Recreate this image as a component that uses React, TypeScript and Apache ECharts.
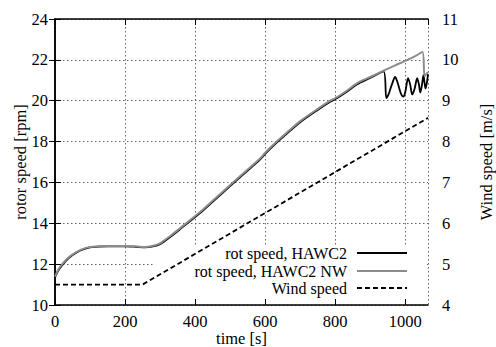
import React, { useEffect, useRef } from "react";
import * as echarts from "echarts";

const timeRot = [0, 10, 23, 40, 62, 80, 100, 150, 200, 230, 257, 280, 300, 329, 360, 414, 450, 500, 550, 586, 600, 633, 666, 700, 750, 786, 800, 830, 862, 900, 938];
const rotGrayHead = [11.39, 11.75, 12.05, 12.35, 12.6, 12.75, 12.84, 12.89, 12.89, 12.87, 12.84, 12.9, 13.02, 13.38, 13.8, 14.55, 15.1, 15.87, 16.63, 17.18, 17.45, 18.0, 18.5, 19.0, 19.6, 20.0, 20.12, 20.45, 20.85, 21.16, 21.47];
const rotBlackHead = [11.36, 11.7, 12.0, 12.31, 12.57, 12.72, 12.82, 12.87, 12.87, 12.85, 12.82, 12.87, 12.98, 13.33, 13.75, 14.5, 15.05, 15.82, 16.58, 17.13, 17.4, 17.95, 18.45, 18.95, 19.55, 19.95, 20.07, 20.4, 20.8, 21.12, 21.44];

const timeGrayTail = [970, 1000, 1030, 1049, 1055, 1060, 1065];
const rotGrayTail = [21.72, 21.95, 22.2, 22.38, 21.2, 21.3, 21.4];

const timeBlackTail = [946, 952, 958, 965, 971, 977, 983, 989, 995, 1001, 1008, 1014, 1020, 1027, 1034, 1039, 1043, 1048, 1052, 1055, 1058, 1062, 1065];
const rotBlackTail = [20.13, 20.3, 20.6, 20.95, 21.16, 20.95, 20.6, 20.3, 20.2, 20.5, 21.1, 20.8, 20.3, 20.6, 21.1, 20.8, 20.4, 20.8, 21.25, 20.9, 20.6, 20.9, 21.3];

const timeWind = [0, 250, 1065];
const windSpeed = [4.5, 4.5, 8.58];

const seriesNames = ["rot speed, HAWC2", "rot speed, HAWC2 NW", "Wind speed"];

const FONT = "'Liberation Serif', 'Times New Roman', serif";
const FS = 16.5;

function pairs(t: number[], v: number[]) {
  return t.map((x, i) => [x, v[i]]);
}

export default function App() {
  const ref = useRef<HTMLDivElement>(null);
  useEffect(() => {
    if (!ref.current) return;
    const chart = echarts.init(ref.current, undefined, { renderer: "svg", width: 496, height: 347 });
    const gridLine = { show: true, lineStyle: { color: "#666", type: [1.5, 2.5] as any, width: 1 } };
    const axisLineStyle = { color: "#000", width: 1.5 };
    const labelStyle = { color: "#000", fontFamily: FONT, fontSize: FS };
    const legendCommon = {
      orient: "horizontal",
      align: "right",
      right: 88,
      itemWidth: 50,
      itemHeight: 14,
      padding: 0,
      itemStyle: { opacity: 0 },
      textStyle: { color: "#000", fontFamily: FONT, fontSize: 16, lineHeight: 16, padding: [0, 5, 0, 0] },
    };
    const grayData = pairs(timeRot, rotGrayHead).concat(pairs(timeGrayTail, rotGrayTail));
    const blackData = pairs(timeRot, rotBlackHead).concat(pairs(timeBlackTail, rotBlackTail));
    chart.setOption({
      animation: false,
      backgroundColor: "#fff",
      textStyle: { fontFamily: FONT },
      grid: { left: 55, right: 68, top: 19, bottom: 42, outerBoundsMode: "none", containLabel: false },
      graphic: [
        { type: "rect", z: 1, shape: { x: 153, y: 245, width: 274, height: 53 }, style: { fill: "#fff" } },
      ],
      legend: [
        { ...legendCommon, top: 245, data: [seriesNames[0]] },
        { ...legendCommon, top: 263, data: [seriesNames[1]] },
        { ...legendCommon, top: 280, data: [seriesNames[2]] },
      ],
      xAxis: [
        {
          type: "value",
          position: "bottom",
          min: 0,
          max: 1065,
          interval: 200,
          name: "time [s]",
          nameLocation: "middle",
          nameGap: 25,
          nameMoveOverlap: false,
          nameTextStyle: labelStyle,
          axisLine: { show: true, lineStyle: axisLineStyle },
          axisTick: { show: true, inside: true, length: 6, lineStyle: { color: "#000", width: 1 } },
          axisLabel: { ...labelStyle, margin: 8, showMaxLabel: false, formatter: (v: number) => String(v) },
          splitLine: gridLine,
        },
        {
          type: "value",
          position: "top",
          min: 0,
          max: 1065,
          interval: 200,
          axisLine: { show: true, lineStyle: axisLineStyle },
          axisTick: { show: true, inside: true, length: 6, lineStyle: { color: "#000", width: 1 } },
          axisLabel: { show: false },
          splitLine: { show: false },
        },
      ],
      yAxis: [
        {
          type: "value",
          position: "left",
          min: 10,
          max: 24,
          interval: 2,
          name: "rotor speed [rpm]",
          nameLocation: "middle",
          nameRotate: 90,
          nameGap: 26,
          nameMoveOverlap: false,
          nameTextStyle: labelStyle,
          axisLine: { show: true, lineStyle: axisLineStyle },
          axisTick: { show: true, inside: true, length: 6, lineStyle: { color: "#000", width: 1 } },
          axisLabel: { ...labelStyle, margin: 7 },
          splitLine: gridLine,
        },
        {
          type: "value",
          position: "right",
          min: 4,
          max: 11,
          interval: 1,
          name: "Wind speed [m/s]",
          nameLocation: "middle",
          nameRotate: 90,
          nameGap: 50,
          nameMoveOverlap: false,
          nameTextStyle: labelStyle,
          axisLine: { show: true, lineStyle: axisLineStyle },
          axisTick: { show: true, inside: true, length: 6, lineStyle: { color: "#000", width: 1 } },
          axisLabel: { ...labelStyle, margin: 14 },
          splitLine: { show: false },
        },
      ],
      series: [
        {
          name: seriesNames[0],
          type: "line",
          xAxisIndex: 0,
          yAxisIndex: 0,
          data: blackData,
          symbol: "none",
          showSymbol: false,
          smooth: 0.3,
          lineStyle: { color: "#000", width: 1.8 },
          itemStyle: { color: "#000" },
          z: 3,
        },
        {
          name: seriesNames[1],
          type: "line",
          xAxisIndex: 0,
          yAxisIndex: 0,
          data: grayData,
          symbol: "none",
          showSymbol: false,
          smooth: 0.3,
          lineStyle: { color: "#8c8c8c", width: 2 },
          itemStyle: { color: "#8c8c8c" },
          z: 4,
        },
        {
          name: seriesNames[2],
          type: "line",
          xAxisIndex: 0,
          yAxisIndex: 1,
          data: pairs(timeWind, windSpeed),
          symbol: "none",
          showSymbol: false,
          lineStyle: { color: "#000", width: 1.8, type: [5, 3] },
          itemStyle: { color: "#000" },
          z: 3,
        },
      ],
    });
    return () => chart.dispose();
  }, []);
  return <div ref={ref} style={{ width: 496, height: 347, position: "absolute", left: 0, top: 0 }} />;
}
